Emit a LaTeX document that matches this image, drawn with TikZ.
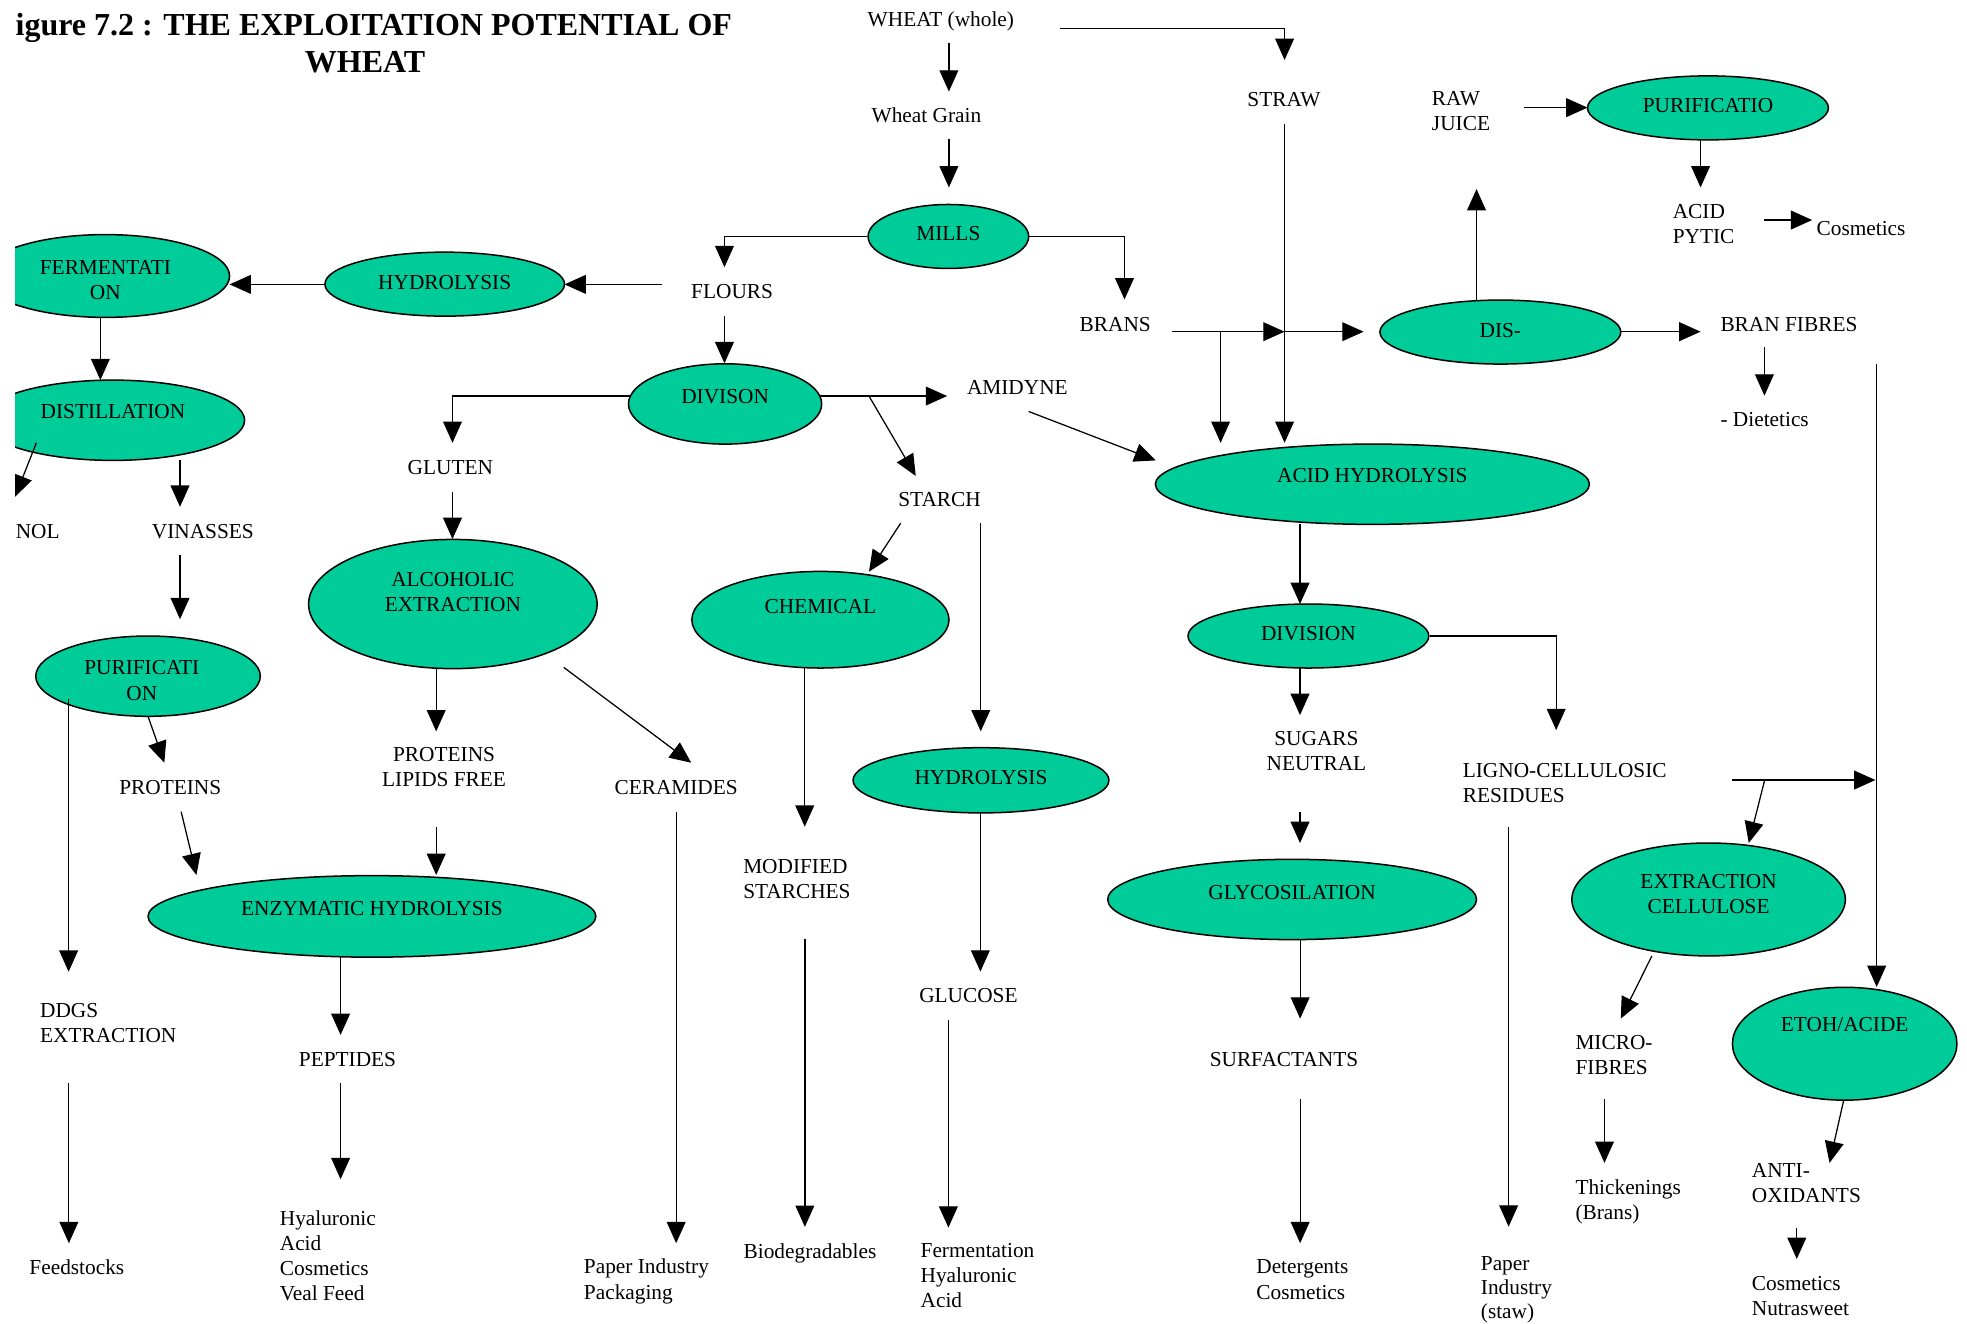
\documentclass[tikz,border=0pt]{standalone}
\usepackage{fontspec}
\setmainfont{Liberation Serif}
\usetikzlibrary{shapes.geometric,arrows.meta}
\definecolor{tealg}{RGB}{0,204,153}
\newcommand\lblfont{\fontsize{17}{20}\selectfont}
\newcommand\tightfont{\fontsize{17}{19.3}\selectfont}
\newcommand\ttlfont{\fontsize{25.5}{30}\selectfont\bfseries}
\newcommand\rb[2]{\raisebox{#1pt}[0pt][0pt]{#2}}
\newcommand\two[2]{\begin{tabular}[t]{@{}c@{}}#1\\#2\end{tabular}}
\begin{document}
\begin{tikzpicture}[x=1pt,y=-1pt, line width=1pt,
  >={Triangle[length=17pt,width=15pt]},
  ell/.style={ellipse, draw=black, line width=1.2pt, fill=tealg, inner sep=0pt, font=\lblfont},
  lbl/.style={inner sep=0pt, font=\lblfont}]
\useasboundingbox (0,0) rectangle (1568,1055);
\fill[white] (0,0) rectangle (1568,1055);
\node[anchor=base west, inner sep=0pt, font=\ttlfont] (title1) at (12,28) {igure 7.2 : THE EXPLOITATION POTENTIAL OF};
\node[anchor=base, inner sep=0pt, font=\ttlfont] (title2) at (291,58) {WHEAT};
\begin{scope}
\clip (12,-5) rectangle (1575,1065);
% ellipses
\node[ell, minimum width=198pt, minimum height=66pt] (ferm) at (84,220) {\rb{1}{\two{FERMENTATI}{ON}}};
\node[ell, minimum width=191pt, minimum height=51pt] (hyd1) at (354.5,226.5) {\rb{-4}{HYDROLYSIS}};
\node[ell, minimum width=210pt, minimum height=64pt] (dist) at (90,335) {\rb{1.5}{DISTILLATION}};
\node[ell, minimum width=179pt, minimum height=64pt] (puri1) at (118,539) {\rb{1}{\two{PURIFICATI}{ON}}\hspace*{10pt}};
\node[ell, minimum width=230pt, minimum height=103pt] (alc) at (361,481.5) {\rb{14}{\two{ALCOHOLIC}{EXTRACTION}}};
\node[ell, minimum width=357pt, minimum height=65pt] (enz) at (296.5,730.5) {\rb{1}{ENZYMATIC HYDROLYSIS}};
\node[ell, minimum width=154pt, minimum height=64pt] (divn) at (578,322) {\rb{0.5}{DIVISON}};
\node[ell, minimum width=128pt, minimum height=51pt] (mills) at (756,188.5) {\rb{-3.5}{MILLS}};
\node[ell, minimum width=192pt, minimum height=51pt] (puri2) at (1361.5,86) {\rb{-3.5}{PURIFICATIO}};
\node[ell, minimum width=192pt, minimum height=51pt] (dis) at (1196,264.7) {\rb{-4}{DIS-}};
\node[ell, minimum width=346pt, minimum height=64pt] (acid) at (1094,386) {\rb{1}{ACID HYDROLYSIS}};
\node[ell, minimum width=192pt, minimum height=51pt] (divi) at (1043,507) {\rb{-3.5}{DIVISION}};
\node[ell, minimum width=205pt, minimum height=77pt] (chem) at (654,494) {\rb{5}{CHEMICAL}};
\node[ell, minimum width=204pt, minimum height=52pt] (hyd2) at (782,622) {\rb{-3.5}{HYDROLYSIS}};
\node[ell, minimum width=294pt, minimum height=64pt] (glyc) at (1030,717) {\rb{0}{GLYCOSILATION}};
\node[ell, minimum width=218pt, minimum height=90pt] (extr) at (1362,717) {\rb{9}{\two{EXTRACTION}{CELLULOSE}}};
\node[ell, minimum width=179pt, minimum height=90pt] (etoh) at (1470.5,832) {\rb{9.5}{ETOH/ACIDE}};
% labels
\node[lbl,anchor=north] (wheat) at (750,7) {\strut WHEAT (whole)};
\node[lbl,anchor=north] (grain) at (738.5,83.5) {\strut Wheat Grain};
\node[lbl,anchor=north] (straw) at (1023.5,70.5) {\strut STRAW};
\node[lbl,anchor=north west,align=left] (raw) at (1141,69.5) {\strut RAW\\JUICE};
\node[lbl,anchor=north west,align=left] (pytic) at (1333,159.5) {\strut ACID\\PYTIC};
\node[lbl,anchor=north west] (cosm1) at (1447.6,173) {\strut Cosmetics};
\node[lbl,anchor=north] (brans) at (889,249.5) {\strut BRANS};
\node[lbl,anchor=north west] (branf) at (1371,249.5) {\strut BRAN FIBRES};
\node[lbl,anchor=north west] (diet) at (1371,325.5) {\strut - Dietetics};
\node[lbl,anchor=north] (amid) at (811,300) {\strut AMIDYNE};
\node[lbl,anchor=north] (flours) at (583.6,223.5) {\strut FLOURS};
\node[lbl,anchor=north] (gluten) at (359,363.5) {\strut GLUTEN};
\node[lbl,anchor=north east] (nol) at (48,414.5) {\strut NOL};
\node[lbl,anchor=north] (vin) at (161.7,414.5) {\strut VINASSES};
\node[lbl,anchor=north] (prot) at (135.7,618.5) {\strut PROTEINS};
\node[lbl,anchor=north,align=center] (plf) at (354,592.5) {\strut PROTEINS\\LIPIDS FREE};
\node[lbl,anchor=north] (cer) at (539,618.5) {\strut CERAMIDES};
\node[lbl,anchor=north west,align=left] (mod) at (592,682) {\strut MODIFIED\\STARCHES};
\node[lbl,anchor=north] (starch) at (749,389.3) {\strut STARCH};
\node[lbl,anchor=north west,align=left] (ddgs) at (31.5,796.5) {\strut DDGS\\EXTRACTION};
\node[lbl,anchor=north] (pept) at (277,835.5) {\strut PEPTIDES};
\node[lbl,anchor=north west] (feed) at (23,1001.5) {\strut Feedstocks};
\node[lbl,anchor=north west,align=left] (hyal) at (222.6,962.5) {\strut Hyaluronic\\Acid\\Cosmetics\\Veal Feed};
\node[lbl,anchor=north west,align=left] (paper1) at (465,1001) {\strut Paper Industry\\Packaging};
\node[lbl,anchor=north west] (biod) at (592.3,988.5) {\strut Biodegradables};
\node[lbl,anchor=north] (gluc) at (772,785) {\strut GLUCOSE};
\node[lbl,anchor=north west,align=left] (fermt) at (733.4,988) {\strut Fermentation\\Hyaluronic\\Acid};
\node[lbl,anchor=north,align=center] (sugars) at (1049.4,580) {\strut SUGARS\\NEUTRAL};
\node[lbl,anchor=north west,align=left] (ligno) at (1165.6,605.3) {\strut LIGNO-CELLULOSIC\\RESIDUES};
\node[lbl,anchor=north] (surf) at (1023.5,835.5) {\strut SURFACTANTS};
\node[lbl,anchor=north west,align=left] (deter) at (1001,1001) {\strut Detergents\\Cosmetics};
\node[lbl,anchor=north west,align=left,font=\tightfont] (paper2) at (1180,998.5) {\strut Paper\\Industry\\(staw)};
\node[lbl,anchor=north west,align=left] (micro) at (1255.4,822) {\strut MICRO-\\FIBRES};
\node[lbl,anchor=north west,align=left] (thick) at (1255.4,937.5) {\strut Thickenings\\(Brans)};
\node[lbl,anchor=north west,align=left] (anti) at (1396,924) {\strut ANTI-\\OXIDANTS};
\node[lbl,anchor=north west,align=left] (cosm2) at (1396,1014) {\strut Cosmetics\\Nutrasweet};
% connectors
\draw[->] (845,22.6) -| (1024,47.8);
\draw[->] (756.4,34.5) -- (756.4,73);
\draw[->] (756.4,111) -- (756.4,149.4);
\draw[->] (mills.west) -| (577.5,213);
\draw[->] (mills.east) -| (896.4,238.7);
\draw[->] (527.5,226.7) -- (450,226.7);
\draw[->] (259,226.7) -- (183,226.7);
\draw[->] (80,253) -- (80,303);
\draw[->] (577.5,252) -- (577.5,289.6);
\draw[->] (502.5,315.7) -| (360.7,353);
\draw[->] (653.5,315.7) -- (755,315.7);
\draw[->] (692.7,315.7) -- (730,379.4);
\draw[->] (820,328) -- (921.3,367);
\draw[->] (934,264.4) -- (1024,264.4);
\draw[->] (1024,264.4) -- (1087,264.4);
\draw[->] (973,264.4) -- (973,353);
\draw[->] (1024,98.5) -- (1024,353);
\draw[->] (1177,239.7) -- (1177,150.7);
\draw[->] (1215,85.8) -- (1265.5,85.8);
\draw[->] (1355.6,111.5) -- (1355.6,149.4);
\draw[->] (1406,175.4) -- (1444.6,175.4);
\draw[->] (1292,264.4) -- (1355.6,264.4);
\draw[->] (1406.5,277) -- (1406.5,315.4);
\draw[->] (1496,290) -- (1496,786.8);
\draw[->] (1380.5,621.8) -- (1495,621.8);
\draw[->] (1406.7,621.8) -- (1394,672);
\draw[->] (1036.3,417.8) -- (1036.3,481.5);
\draw[->] (divi.east) -| (1240.5,582);
\draw[->] (1036.3,532.5) -- (1036.3,570);
\draw[->] (1036.3,647) -- (1036.3,672);
\draw[->] (1202.6,659) -- (1202.6,977.8);
\draw[->] (1036.4,749) -- (1036.4,812);
\draw[->] (1036.4,876) -- (1036.4,991);
\draw[->] (1316.8,762) -- (1292,812);
\draw[->] (1279,876) -- (1279,927);
\draw[->] (1469.7,877) -- (1458.4,927);
\draw[->] (1432.3,978.6) -- (1432.3,1003.6);
\draw[->] (29,353) -- (12,396);
\draw[->] (143.5,367) -- (143.5,404);
\draw[->] (143.5,442.4) -- (143.5,493.6);
\draw[->] (118,571) -- (131,608);
\draw[->] (54.7,557) -- (54.7,774.6);
\draw[->] (144.4,647) -- (156.6,697.5);
\draw[->] (360.7,392) -- (360.7,429.7);
\draw[->] (347.7,533) -- (347.7,583);
\draw[->] (449.4,532) -- (551,608);
\draw[->] (347.7,659) -- (347.7,697.5);
\draw[->] (271.5,763) -- (271.5,825);
\draw[->] (271.5,863) -- (271.5,940);
\draw[->] (54.9,863) -- (54.9,991);
\draw[->] (539,647) -- (539,991);
\draw[->] (641.5,532.6) -- (641.5,659);
\draw[->] (641.6,748.5) -- (641.6,978);
\draw[->] (718,417) -- (692.7,455.7);
\draw[->] (781.8,417) -- (781.8,583);
\draw[->] (781.5,648) -- (781.5,774.5);
\draw[->] (756,813) -- (756,978.6);
\end{scope}
\end{tikzpicture}
\end{document}
